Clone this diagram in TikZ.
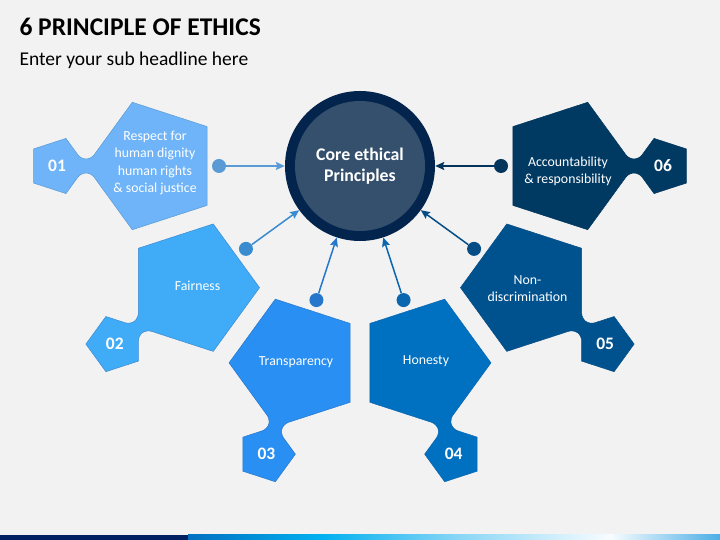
\documentclass[tikz,border=0pt]{standalone}
\usepackage{fontspec}
\setmainfont{Carlito}
\usepackage{tikz}
\usetikzlibrary{calc,arrows.meta}
\definecolor{bg}{HTML}{F2F2F2}
\definecolor{navy}{HTML}{03254D}
\definecolor{slate}{HTML}{35506D}
\definecolor{pA}{HTML}{6FB4F8}
\definecolor{pB}{HTML}{40ACF8}
\definecolor{pC}{HTML}{2A8FF2}
\definecolor{pD}{HTML}{0070C0}
\definecolor{pE}{HTML}{00528F}
\definecolor{pF}{HTML}{003A62}
\definecolor{dA}{HTML}{5B9BD5}
\definecolor{dB}{HTML}{3A8BD0}
\definecolor{dC}{HTML}{2677CC}
\definecolor{dD}{HTML}{0B66B0}
\definecolor{dE}{HTML}{064D85}
\definecolor{dF}{HTML}{03355C}
\definecolor{barA}{HTML}{002060}
\definecolor{barB}{HTML}{0070C0}
\definecolor{barC}{HTML}{00B0F0}
\definecolor{barD}{HTML}{8AD6F6}
\definecolor{barE}{HTML}{F8FCFF}
\definecolor{barF}{HTML}{4AAEE6}
\pgfdeclarehorizontalshading{barfade}{100bp}{color(0bp)=(barB); color(25bp)=(barB);
  color(37.5bp)=(barC); color(50.5bp)=(barD); color(64.7bp)=(barE); color(75bp)=(barF); color(100bp)=(barF)}
\tikzset{
  piece/.style={line width=0.5pt},
  lbl/.style={text=white, font=\fontsize{13.8}{17.3}\selectfont, align=center},
  num/.style={text=white, font=\bfseries\fontsize{17.5}{20}\selectfont},
  dot/.style={circle, inner sep=0pt, minimum size=14pt},
  arr/.style={line width=1.5pt, -{Stealth[length=9pt,width=8pt,inset=1.5pt]}},
  core/.style={circle, fill=navy, minimum size=150pt, inner sep=0pt},
  coreinner/.style={circle, fill=slate, minimum size=130pt, inner sep=0pt, text=white,
    font=\bfseries\fontsize{17.8}{21.4}\selectfont, align=center},
  ttl/.style={text=black, font=\bfseries\fontsize{25.5}{30}\selectfont},
  subttl/.style={text=black, font=\fontsize{19.5}{23}\selectfont}
}
\begin{document}
\begin{tikzpicture}[x=1pt, y=1pt]
  \fill[bg] (0,0) rectangle (720,540);
  \useasboundingbox (0,0) rectangle (720,540);
  \node[ttl, anchor=base west] (title) at (16,504) {6 PRINCIPLE OF ETHICS};
  \node[subttl, anchor=base west] (subtitle) at (16,474.3) {Enter your sub headline here};
  \node[core] (core) at (360,374) {};
  \node[coreinner] (coretxt) at (core.center) {Core ethical\\Principles};
  % puzzle pieces around the core
  \foreach \n/\a/\fc/\dc/\ox/\oy/\txt in {
      01/180/pA/dA/2/3/{Respect for\\human dignity\\human rights\\\& social justice},
      02/216/pB/dB/5/2/{Fairness},
      03/252/pC/dC/0/1/{Transparency},
      04/288/pD/dD/2/2/{Honesty},
      05/324/pE/dE/0/-1/{Non-\\discrimination},
      06/360/pF/dF/1/-5/{Accountability\\\& responsibility}}{
    \coordinate (p\n) at ($(core.center)+(\a:207)$);
    \begin{scope}[shift={(p\n)}, rotate=\a]
      \filldraw[piece, fill=\fc, draw=\dc] (20.70,63.72) -- (56.83,14)
        [rounded corners=5pt] -- (61.91,7) -- (72.09,7) -- (77.17,14)
        [sharp corners] -- (87.04,27.58) -- (119.46,17.05) -- (119.46,-17.05) -- (87.04,-27.58) -- (77.17,-14)
        [rounded corners=5pt] -- (72.09,-7) -- (61.91,-7) -- (56.83,-14)
        [sharp corners] -- (20.70,-63.72) -- (-54.20,-39.38) -- (-54.20,39.38) -- cycle;
    \end{scope}
    \node[lbl, xshift=\ox pt, yshift=\oy pt] (t\n) at (p\n) {\txt};
    \node[num] (n\n) at ($(p\n)+(\a:96)$) {\n};
    \node[dot, fill=\dc] (d\n) at ($(core.center)+(\a:141)$) {};
    \draw[arr, draw=\dc, fill=\dc] (d\n) -- (core);
  }
  % bottom bar
  \fill[barA] (0,0) rectangle (188,5.3);
  \shade[shading=barfade] (188,0) rectangle (720,5.3);
\end{tikzpicture}
\end{document}
